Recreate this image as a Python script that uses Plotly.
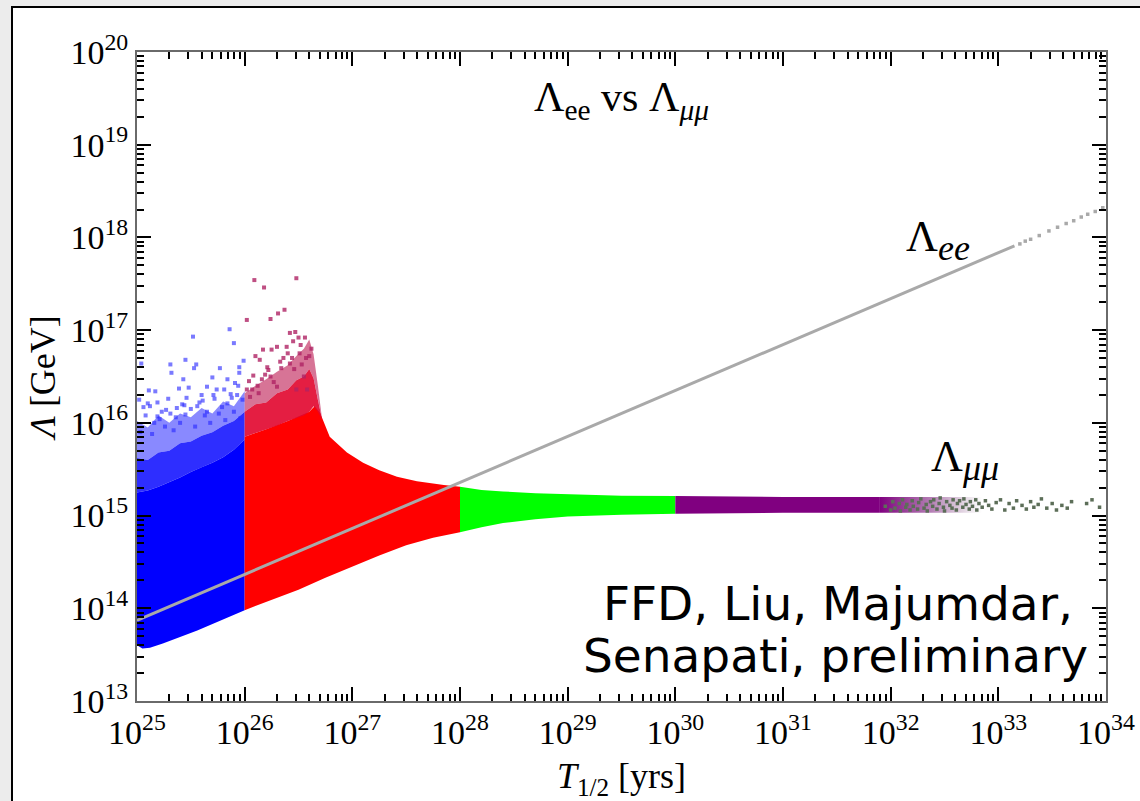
import numpy as np
import plotly.graph_objects as go

# ---------------- data (log10 values) ----------------
x_tick_exp = [25, 26, 27, 28, 29, 30, 31, 32, 33, 34]
y_tick_exp = [13, 14, 15, 16, 17, 18, 19, 20]
x_tick_text = [f"10<sup>{e}</sup>" for e in x_tick_exp]
y_tick_text = [f"10<sup>{e}</sup>" for e in y_tick_exp]

# blue cloud (T from 1e25 to 1e26)
blue_low_T = [25.0, 25.05, 25.12, 25.24, 25.56, 26.0]
blue_low_L = [13.60, 13.565, 13.575, 13.62, 13.76, 13.98]
blue_top_T = [25.0, 25.1, 25.2, 25.3, 25.4, 25.5, 25.6, 25.7, 25.8, 25.9, 26.0]
blue_solid_top_L = [15.25, 15.27, 15.31, 15.36, 15.41, 15.47, 15.52, 15.57, 15.63, 15.71, 15.82]
blue_mid_top_L = [15.62, 15.60, 15.68, 15.70, 15.78, 15.80, 15.86, 15.90, 15.97, 16.02, 16.12]
blue_fuzz_top_L = [16.02, 15.95, 16.08, 16.00, 16.10, 16.06, 16.16, 16.10, 16.23, 16.18, 16.34]
blue_out_T = [25.86, 25.52, 25.90, 25.45, 25.55, 25.31, 25.53, 25.77, 25.99, 25.95,
              25.04, 25.32, 25.70, 25.84, 25.43, 25.95, 25.11, 25.17, 25.39, 25.48,
              25.65, 25.74, 25.81, 25.91, 25.93, 25.29, 25.46, 25.60, 25.06, 25.12,
              25.23, 25.37, 25.56, 25.84, 25.98, 25.19, 25.31, 25.45, 25.65, 25.76,
              25.90, 25.16, 25.26, 25.40, 25.54, 25.68, 25.82, 25.96, 25.03, 25.08,
              25.14, 25.21, 25.27, 25.34, 25.42, 25.50, 25.58, 25.63, 25.72, 25.79,
              25.87, 25.94, 25.02, 25.10, 25.19, 25.36, 25.44, 25.61, 25.71, 25.88]
blue_out_L = [17.01, 16.93, 16.86, 16.68, 16.63, 16.63, 16.59, 16.59, 16.67, 16.60,
              16.64, 16.54, 16.49, 16.47, 16.47, 16.54, 16.35, 16.34, 16.37, 16.38,
              16.39, 16.36, 16.36, 16.43, 16.30, 16.26, 16.27, 16.30, 16.17, 16.18,
              16.12, 16.16, 16.18, 16.21, 16.25, 16.07, 16.10, 16.09, 16.12, 16.10,
              16.12, 16.00, 15.96, 16.00, 15.96, 16.00, 16.03, 16.05, 15.90, 16.08,
              15.88, 16.04, 16.14, 15.92, 16.20, 16.15, 16.22, 16.08, 16.26, 16.17,
              16.31, 16.40, 16.25, 16.21, 16.22, 16.06, 16.19, 16.24, 16.30, 16.27]

# red cloud (T from 1e26 to 1e28)
red_low_T = [26.0, 26.25, 26.5, 26.75, 27.0, 27.25, 27.5, 27.75, 28.0]
red_low_L = [13.98, 14.09, 14.20, 14.33, 14.45, 14.57, 14.68, 14.76, 14.82]
red_top_T = [26.0, 26.2, 26.4, 26.6, 26.65, 26.7, 26.79, 26.95, 27.1, 27.25,
             27.415, 27.6, 27.72, 27.85, 28.0]
red_top_L = [15.85, 15.93, 16.02, 16.12, 16.18, 16.11, 15.85, 15.68, 15.57, 15.49,
             15.42, 15.37, 15.35, 15.33, 15.31]
red_fuzz_T = [26.0, 26.1, 26.2, 26.3, 26.4, 26.48, 26.55, 26.6, 26.64, 26.68, 26.72]
red_fuzz_bot_L = [15.85, 15.89, 15.93, 15.97, 16.02, 16.05, 16.08, 16.12, 16.18, 16.12, 16.03]
red_mid_top_L = [16.12, 16.20, 16.22, 16.32, 16.36, 16.46, 16.50, 16.58, 16.48, 16.25, 16.03]
red_fuzz_top_L = [16.32, 16.40, 16.47, 16.55, 16.62, 16.72, 16.80, 16.90, 16.74, 16.40, 16.03]
red_out_T = [26.09, 26.18, 26.48, 26.02, 26.24, 26.31, 26.37, 26.42, 26.47, 26.50,
             26.17, 26.10, 26.14, 26.25, 26.30, 26.39, 26.45, 26.51, 26.08, 26.19,
             26.34, 26.42, 26.53, 26.02, 26.04, 26.24, 26.30, 26.55, 26.13, 26.48,
             26.58, 26.60, 26.56, 26.36, 26.21, 26.05, 26.12, 26.27, 26.33, 26.44,
             26.52, 26.57, 26.62, 26.07, 26.16, 26.22, 26.40, 26.46]
red_out_L = [17.54, 17.46, 17.56, 17.11, 17.12, 17.18, 17.22, 16.97, 16.98, 16.92,
             16.79, 16.72, 16.68, 16.79, 16.82, 16.82, 16.88, 16.75, 16.51, 16.52,
             16.59, 16.64, 16.63, 16.36, 16.45, 16.50, 16.39, 16.50, 16.32, 16.36,
             16.36, 16.72, 16.92, 16.70, 16.60, 16.28, 16.40, 16.44, 16.66, 16.70,
             16.84, 16.70, 16.80, 16.36, 16.47, 16.57, 16.75, 16.58]

# green band (T from 1e28 to 1e30)
green_T = [28.0, 28.2, 28.4, 28.7, 29.0, 29.5, 30.0]
green_top_L = [15.31, 15.275, 15.26, 15.24, 15.23, 15.215, 15.21]
green_low_L = [14.82, 14.875, 14.92, 14.96, 14.99, 15.01, 15.02]

# purple band (T from 1e30)
purple_T = [30.0, 31.0, 31.9]
purple_top_L = [15.21, 15.20, 15.20]
purple_low_L = [15.02, 15.03, 15.03]
purple_fade_T = [31.9, 32.85]

# sparse grey-green points at the far end
grey_T = [31.95, 32.00, 32.02, 32.04, 32.08, 32.09, 32.11, 32.14, 32.15, 32.18,
          32.20, 32.21, 32.25, 32.26, 32.28, 32.31, 32.33, 32.34, 32.37, 32.39,
          32.40, 32.43, 32.45, 32.46, 32.49, 32.50, 32.52, 32.55, 32.57, 32.58,
          32.61, 32.62, 32.64, 32.67, 32.68, 32.70, 32.73, 32.74, 32.76, 32.79,
          32.80, 32.82, 32.85, 32.88, 32.91, 32.94, 32.98, 33.02, 33.06, 33.10,
          33.14, 33.17, 33.22, 33.26, 33.30, 33.33, 33.37, 33.40, 33.45, 33.50,
          33.54, 33.59, 33.64, 33.68, 33.82, 33.87, 33.94]
grey_L = [15.10, 15.06, 15.15, 15.08, 15.13, 15.05, 15.17, 15.09, 15.12, 15.06,
          15.16, 15.10, 15.07, 15.14, 15.18, 15.08, 15.12, 15.05, 15.15, 15.10,
          15.17, 15.07, 15.13, 15.19, 15.09, 15.05, 15.15, 15.11, 15.08, 15.17,
          15.06, 15.13, 15.16, 15.09, 15.18, 15.12, 15.07, 15.15, 15.10, 15.17,
          15.06, 15.13, 15.09, 15.16, 15.11, 15.07, 15.14, 15.17, 15.06, 15.13,
          15.08, 15.16, 15.11, 15.07, 15.15, 15.09, 15.12, 15.18, 15.08, 15.13,
          15.06, 15.11, 15.08, 15.15, 15.13, 15.17, 15.09]

# Lambda_ee line
lee_T = [25.0, 33.15]
lee_L = [13.87, 17.91]
lee_dot_T = [33.20, 33.25, 33.30, 33.38, 33.47, 33.55, 33.63, 33.70, 33.77, 33.83, 33.90, 33.97]
lee_dot_L = [17.93, 17.96, 17.98, 18.02, 18.07, 18.11, 18.15, 18.18, 18.22, 18.25, 18.28, 18.32]


def p(v):
    return list(10.0 ** np.asarray(v, dtype=float))


def band(xlo, ylo, xhi, yhi):
    xs = list(xlo) + list(xhi)[::-1]
    ys = list(ylo) + list(yhi)[::-1]
    return p(xs), p(ys)


fig = go.Figure()


def add_fill(xlo, ylo, xhi, yhi, color, **kw):
    xs, ys = band(xlo, ylo, xhi, yhi)
    fig.add_trace(go.Scatter(x=xs, y=ys, mode="lines", fill="toself",
                             fillcolor=color, line=dict(width=0, color=color),
                             hoverinfo="skip", **kw))


# blue
add_fill(blue_low_T, blue_low_L, blue_top_T, blue_solid_top_L, "rgb(0,0,255)")
add_fill(blue_top_T, blue_solid_top_L, blue_top_T, blue_mid_top_L, "rgba(0,0,255,0.82)")
add_fill(blue_top_T, blue_mid_top_L, blue_top_T, blue_fuzz_top_L, "rgba(20,20,255,0.5)")
fig.add_trace(go.Scatter(x=p(blue_out_T), y=p(blue_out_L), mode="markers",
                         marker=dict(symbol="square", size=4, color="rgba(40,40,255,0.62)",
                                     line=dict(width=0)), hoverinfo="skip"))

# red
add_fill(red_low_T, red_low_L, red_top_T, red_top_L, "rgb(255,0,0)")
add_fill(red_fuzz_T, red_fuzz_bot_L, red_fuzz_T, red_mid_top_L, "rgba(225,5,45,0.9)")
add_fill(red_fuzz_T, red_mid_top_L, red_fuzz_T, red_fuzz_top_L, "rgba(190,30,85,0.62)")
fig.add_trace(go.Scatter(x=p(red_out_T), y=p(red_out_L), mode="markers",
                         marker=dict(symbol="square", size=4, color="rgba(175,35,100,0.8)",
                                     line=dict(width=0)), hoverinfo="skip"))

# green
add_fill(green_T, green_low_L, green_T, green_top_L, "rgb(0,255,0)")

# purple
add_fill(purple_T, purple_low_L, purple_T, purple_top_L, "rgb(128,0,128)")
fx, fy = band(purple_fade_T, [purple_low_L[-1]] * 2, purple_fade_T, [purple_top_L[-1]] * 2)
fig.add_trace(go.Scatter(x=fx, y=fy, mode="lines", fill="toself", line=dict(width=0),
                         fillgradient=dict(type="horizontal",
                                           colorscale=[[0, "rgba(128,0,128,1)"],
                                                       [0.5, "rgba(120,20,120,0.55)"],
                                                       [1, "rgba(110,60,110,0)"]]),
                         hoverinfo="skip"))
fig.add_trace(go.Scatter(x=p(grey_T), y=p(grey_L), mode="markers",
                         marker=dict(symbol="square", size=3.5, color="rgb(92,110,88)",
                                     line=dict(width=0)), hoverinfo="skip"))

# Lambda_ee
fig.add_trace(go.Scatter(x=p(lee_T), y=p(lee_L), mode="lines",
                         line=dict(color="#a9a9a9", width=3), hoverinfo="skip"))
fig.add_trace(go.Scatter(x=p(lee_dot_T), y=p(lee_dot_L), mode="markers",
                         marker=dict(symbol="square", size=3.5, color="#a9a9a9",
                                     line=dict(width=0)), hoverinfo="skip"))

serif = "Liberation Serif"
axis_common = dict(
    type="log", ticks="inside", ticklen=14, tickwidth=2, tickcolor="black",
    showline=True, linecolor="#6a6a6a", linewidth=2, mirror="ticks",
    showgrid=False, zeroline=False, tickmode="array", automargin=False,
    tickfont=dict(family=serif, size=34, color="black"),
    minor=dict(ticks="inside", ticklen=7, tickwidth=1.5, tickcolor="black",
               dtick="D1", showgrid=False),
)

fig.update_layout(
    width=1140, height=801,
    margin=dict(l=137, r=34, t=52, b=100),
    paper_bgcolor="#ececec", plot_bgcolor="rgba(0,0,0,0)",
    showlegend=False,
    xaxis=dict(axis_common, range=[25, 34],
               tickvals=p(x_tick_exp), ticktext=x_tick_text,
               title=dict(text="<i>T</i><sub>1/2</sub> [yrs]",
                          font=dict(family=serif, size=36, color="black"), standoff=16)),
    yaxis=dict(axis_common, range=[13, 20],
               tickvals=p(y_tick_exp), ticktext=y_tick_text,
               title=dict(text="<i>Λ</i> [GeV]",
                          font=dict(family=serif, size=36, color="black"), standoff=4)),
    shapes=[dict(type="rect", xref="paper", yref="paper", layer="below",
                 x0=(12 - 137) / 969, x1=1.1, y0=-0.3, y1=(701 - 7) / 649,
                 fillcolor="white", line=dict(color="black", width=2))],
)

sub_big = '<span style="font-size:36px">{}</span>'
annots = [
    dict(text="Λ<sub>ee</sub> vs Λ<sub><i>μμ</i></sub>", xref="paper", yref="paper",
         x=0.5, y=(701 - 100) / 649, font=dict(family=serif, size=42, color="black")),
    dict(text="Λ<sub>" + sub_big.format("<i>ee</i>") + "</sub>", xref="x", yref="y",
         x=32.44, y=17.97, font=dict(family=serif, size=44, color="black")),
    dict(text="Λ<sub>" + sub_big.format("<i>μμ</i>") + "</sub>", xref="x", yref="y",
         x=32.69, y=15.60, font=dict(family=serif, size=44, color="black")),
    dict(text="FFD, Liu, Majumdar,", xref="x", yref="y", x=33.71, y=14.05,
         xanchor="right", font=dict(family="DejaVu Sans", size=47, color="black")),
    dict(text="Senapati, preliminary", xref="x", yref="y", x=33.85, y=13.49,
         xanchor="right", font=dict(family="DejaVu Sans", size=47, color="black")),
]
for a in annots:
    a.setdefault("xanchor", "center")
    a["showarrow"] = False
    a["yanchor"] = "middle"
fig.update_layout(annotations=annots)

fig.write_html("out.html", config={"displayModeBar": False},
               post_script="document.body.style.margin='0';"
                           "document.body.style.background='#ececec';")
